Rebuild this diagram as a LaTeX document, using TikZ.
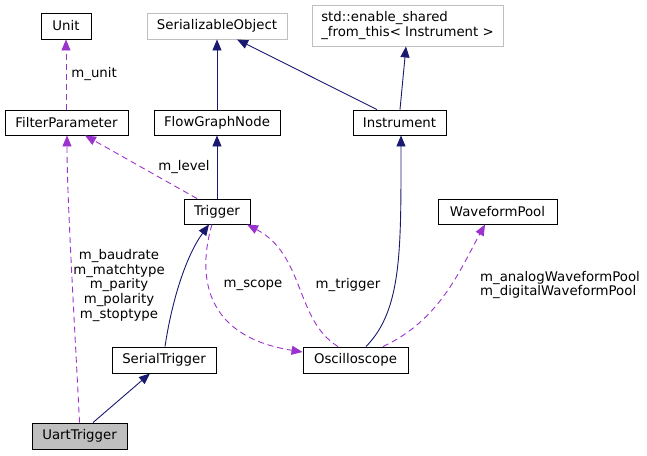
\documentclass[tikz,border=0pt]{standalone}
\usepackage{fontspec}
\setmainfont{DejaVu Sans}
\usetikzlibrary{arrows.meta}
\definecolor{navy}{HTML}{191970}
\definecolor{orchid}{HTML}{9A32CD}
\definecolor{lgray}{HTML}{BFBFBF}
\begin{document}
\begin{tikzpicture}[x=1pt,y=-1pt,
  every node/.style={font=\fontsize{13.3}{14.7}\selectfont},
  cls/.style={draw=black,line width=0.9pt,minimum height=26pt,inner sep=0pt,anchor=center,fill=white},
  ext/.style={cls,draw=lgray},
  inh/.style={draw=navy,line width=0.9pt,-{Triangle[length=11pt,width=9pt]}},
  use/.style={draw=orchid,line width=0.9pt,dash pattern=on 6pt off 4pt,-{Triangle[length=11pt,width=9pt]}},
  lbl/.style={inner sep=0pt,align=center}]
\useasboundingbox (0,0) rectangle (647,455);
% nodes
\node[cls,minimum width=50pt] (unit) at (66,26) {Unit};
\node[cls,minimum width=123pt,minimum height=25pt] (fp) at (66.5,122.5) {FilterParameter};
\node[ext,minimum width=140pt] (so) at (217,26) {SerializableObject};
\node[ext,minimum width=191pt,minimum height=41pt,align=left] (es) at (407.5,25.5) {std::enable\_shared\\\_from\_this< Instrument >};
\node[cls,minimum width=126pt,minimum height=25pt] (fgn) at (217,122.5) {FlowGraphNode};
\node[cls,minimum width=93pt,minimum height=25pt] (inst) at (399.5,122.5) {Instrument};
\node[cls,minimum width=66pt,minimum height=25pt] (trig) at (217,211.5) {Trigger};
\node[cls,minimum width=119pt,minimum height=25pt] (wp) at (497.5,211.5) {WaveformPool};
\node[cls,minimum width=104pt] (st) at (164,360) {SerialTrigger};
\node[cls,minimum width=105pt] (osc) at (355.5,360) {Oscilloscope};
\node[cls,fill=lgray,minimum width=95pt] (uart) at (79.5,436) {UartTrigger};
% inheritance
\draw[inh] (fgn.north) -- (so.south);
\draw[inh] ([xshift=-22.5pt]inst.north) -- ([xshift=20pt]so.south);
\draw[inh] ([xshift=0.5pt]inst.north) -- ([xshift=-1.5pt]es.south);
\draw[inh] (trig.north) -- (fgn.south);
\draw[inh] ([xshift=13.5pt]uart.north) -- ([xshift=-14pt]st.south);
\draw[inh] ([xshift=1pt]st.north) .. controls (172,300) and (186,256) .. ([xshift=-8pt]trig.south);
\draw[inh] ([xshift=10.5pt]osc.north) .. controls (402,310) and (401,250) .. ([xshift=1.5pt]inst.south);
% usage
\draw[use] ([xshift=-0.5pt]fp.north) -- (unit.south) node[lbl,pos=0.5,right=5pt] {m\_unit};
\draw[use] ([xshift=-20pt]trig.north) -- ([xshift=18.5pt]fp.south);
\node[lbl] (lvl) at (184,167) {m\_level};
\draw[use] (uart.north) .. controls (75,330) and (67,200) .. ([xshift=0.5pt]fp.south);
\node[lbl] (multi) at (119,285.5) {m\_baudrate\\m\_matchtype\\m\_parity\\m\_polarity\\m\_stoptype};
\draw[use] ([xshift=-5pt]trig.south) .. controls (200,265) and (196,335) .. ([yshift=8pt]osc.west);
\node[lbl] (msc) at (253,285) {m\_scope};
\draw[use] ([xshift=-17.5pt]osc.north) .. controls (295,320) and (305,255) .. ([xshift=30pt]trig.south);
\node[lbl] (mtr) at (348,285) {m\_trigger};
\draw[use] ([xshift=27.5pt]osc.north) .. controls (440,320) and (460,270) .. ([xshift=-12.5pt]wp.south);
\node[lbl,align=left,anchor=west] (mwp) at (480,285) {m\_analogWaveformPool\\m\_digitalWaveformPool};
\end{tikzpicture}
\end{document}
